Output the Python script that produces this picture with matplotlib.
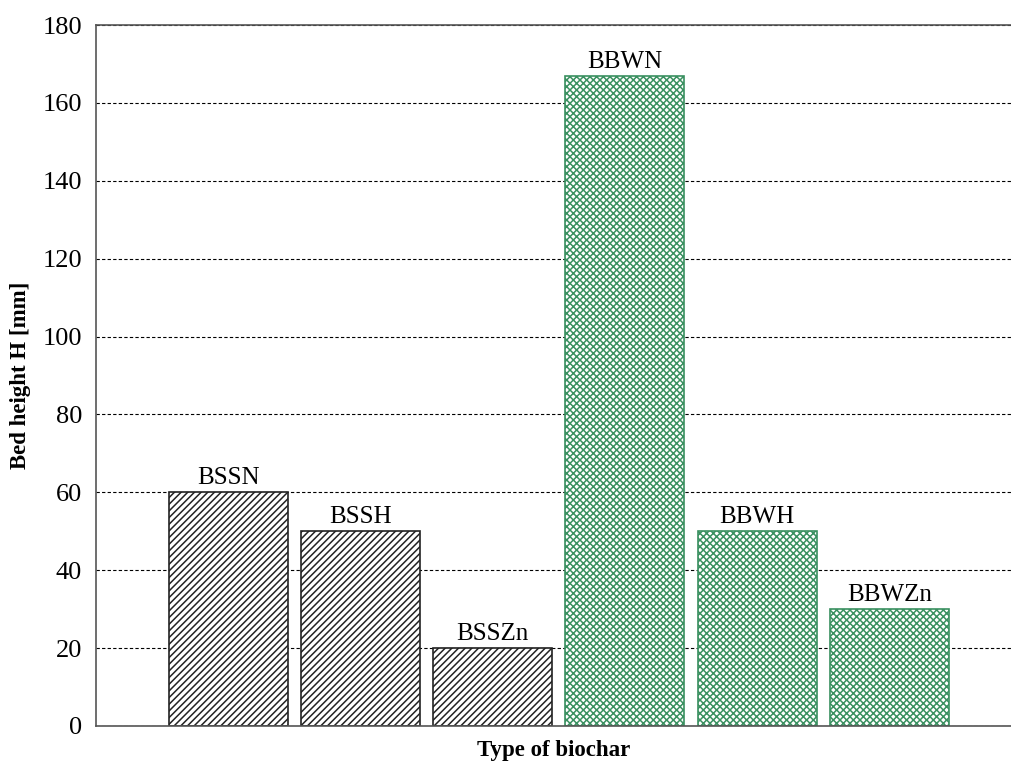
import numpy as np
import matplotlib.pyplot as plt

# Data
biochars = ["BSSN", "BSSH", "BSSZn", "BBWN", "BBWH", "BBWZn"]
bed_height = [60, 50, 20, 167, 50, 30]
yticks = [0, 20, 40, 60, 80, 100, 120, 140, 160, 180]

plt.rcParams['font.family'] = ['Liberation Serif', 'DejaVu Serif']
plt.rcParams['hatch.linewidth'] = 1.1

fig = plt.figure(figsize=(10.11, 7.65), dpi=100)
ax = fig.add_axes([96/1011, 1 - 726/765, (1011 - 96)/1011, (726 - 25)/765])

x = np.arange(len(biochars))
green = '#3a9060'
for i, (name, h) in enumerate(zip(biochars, bed_height)):
    if i < 3:
        ec, hatch = '#222222', '/////'
    else:
        ec, hatch = green, 'xxxxx'
    ax.bar(x[i], h, width=0.9, facecolor='white', edgecolor=ec,
           hatch=hatch, linewidth=1.2, zorder=2)
    ax.text(x[i], h + 0.8, name, ha='center', va='bottom', fontsize=18)

ax.set_xlim(-1.0, 5.92)
ax.set_ylim(0, 180)
ax.set_yticks(yticks)
ax.set_xticks([])
ax.tick_params(axis='y', length=0, labelsize=19, pad=10)
ax.yaxis.grid(True, linestyle=(0, (3, 2)), color='black', linewidth=0.8)
ax.set_axisbelow(True)

for s in ['left', 'bottom', 'top']:
    ax.spines[s].set_color('#555555')
    ax.spines[s].set_linewidth(1.2)
ax.spines['right'].set_visible(False)

ax.set_ylabel("Bed height H [mm]", fontsize=16.5, fontweight='bold', labelpad=8)
ax.set_xlabel("Type of biochar", fontsize=16.5, fontweight='bold', labelpad=10)

fig.savefig("out.png", dpi=100)
